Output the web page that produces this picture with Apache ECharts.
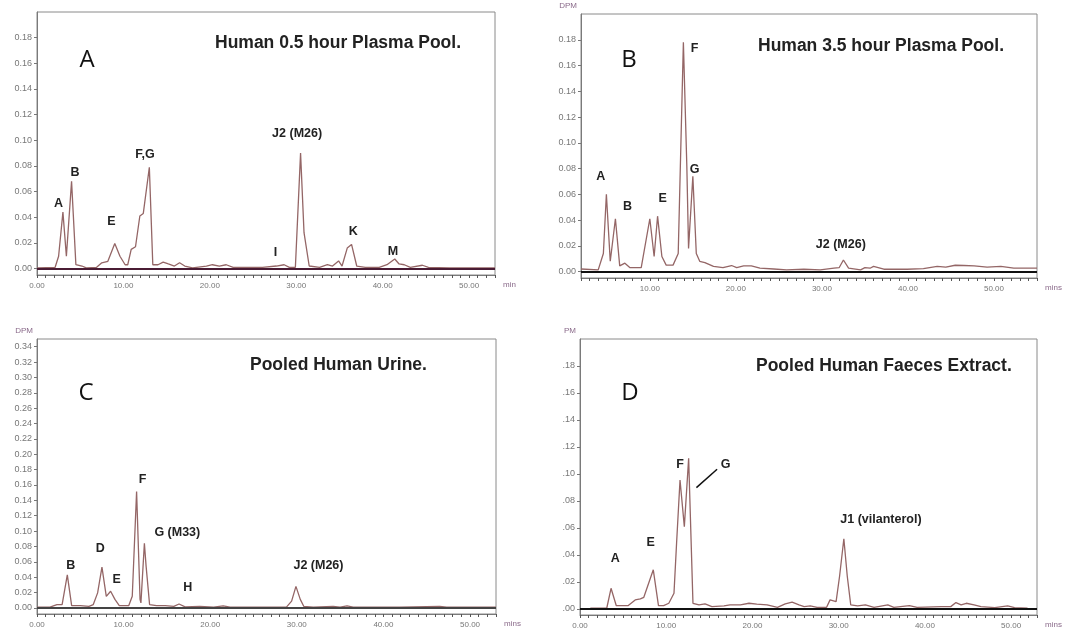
<!DOCTYPE html>
<html>
<head>
<meta charset="utf-8">
<script src="https://cdn.jsdelivr.net/npm/echarts@6/dist/echarts.min.js"></script>
<style>
  html, body { margin: 0; padding: 0; background: #fff; }
  #chart { width: 1084px; height: 638px; }
</style>
</head>
<body>
<div id="chart"></div>
<script>
// ---- panel A: Human 0.5 hour plasma pool ----
const timeA = [0, 2.1, 2.5, 3.0, 3.4, 4.0, 4.5, 5.2, 5.7, 6.9, 7.5, 8.2, 9.0, 9.6, 10.2, 10.5, 10.9, 11.4, 11.9, 12.3, 13.0, 13.4, 14.0, 14.6, 15.2, 15.9, 16.5, 17.1, 18.0, 19.6, 20.3, 21.1, 21.9, 22.7, 24.2, 26.1, 27.7, 28.6, 29.2, 29.9, 30.5, 30.9, 31.5, 32.7, 33.6, 34.2, 34.9, 35.3, 35.9, 36.4, 37.0, 38.0, 39.6, 40.5, 41.4, 41.9, 42.5, 43.2, 44.6, 45.3, 47.7, 53];
const dpmA = [0.0005, 0.001, 0.0096, 0.044, 0.0096, 0.068, 0.003, 0.002, 0.0005, 0.001, 0.0045, 0.0057, 0.0195, 0.0096, 0.003, 0.003, 0.015, 0.017, 0.041, 0.043, 0.079, 0.003, 0.003, 0.005, 0.0036, 0.002, 0.0045, 0.002, 0.0005, 0.002, 0.003, 0.002, 0.003, 0.001, 0.001, 0.001, 0.002, 0.003, 0.001, 0.001, 0.09, 0.028, 0.002, 0.001, 0.003, 0.002, 0.006, 0.002, 0.016, 0.0188, 0.002, 0.001, 0.001, 0.003, 0.0075, 0.0036, 0.003, 0.001, 0.0026, 0.001, 0.0005, 0.0005];
const peakNamesA = ['A', 'B', 'E', 'F,G', 'I', 'J2 (M26)', 'K', 'M'];
const peakTimeA = [2.5, 4.4, 8.6, 12.5, 27.6, 30.1, 36.6, 41.2];
const peakDpmA = [0.051, 0.075, 0.037, 0.089, 0.0122, 0.105, 0.029, 0.013];

// ---- panel B: Human 3.5 hour plasma pool ----
const timeB = [2, 4.0, 4.6, 4.95, 5.4, 6.0, 6.5, 7.1, 7.7, 9.0, 10.0, 10.5, 10.9, 11.4, 11.9, 12.7, 13.3, 13.9, 14.3, 14.5, 15.0, 15.4, 15.8, 16.4, 17.4, 18.5, 19.5, 20.1, 20.9, 21.8, 22.8, 24.4, 25.9, 27.9, 29.8, 31.4, 32.0, 32.5, 33.1, 34.5, 35.0, 35.6, 36.0, 37.2, 39.9, 41.8, 43.4, 44.4, 45.5, 46.5, 47.7, 49.2, 50.8, 52.3, 55];
const dpmB = [0.002, 0.0013, 0.014, 0.06, 0.008, 0.041, 0.0044, 0.0065, 0.003, 0.003, 0.041, 0.0117, 0.043, 0.0117, 0.005, 0.005, 0.014, 0.178, 0.082, 0.018, 0.074, 0.014, 0.008, 0.007, 0.004, 0.003, 0.0047, 0.003, 0.0044, 0.0044, 0.0026, 0.002, 0.0013, 0.0018, 0.0013, 0.0026, 0.003, 0.009, 0.0026, 0.0013, 0.003, 0.0026, 0.004, 0.0018, 0.0018, 0.0023, 0.004, 0.0034, 0.0049, 0.0047, 0.0044, 0.0034, 0.004, 0.0026, 0.0026];
const peakNamesB = ['A', 'B', 'E', 'F', 'G', 'J2 (M26)'];
const peakTimeB = [4.3, 7.4, 11.5, 15.2, 15.2, 32.2];
const peakDpmB = [0.0738, 0.0505, 0.0565, 0.173, 0.079, 0.0207];

// ---- panel C: pooled human urine ----
const timeC = [0, 1.5, 2.3, 2.9, 3.5, 4.0, 5.0, 6.0, 6.5, 7.0, 7.5, 8.0, 8.5, 9.0, 9.5, 10.6, 11.0, 11.5, 11.9, 12.0, 12.4, 12.6, 13.0, 13.8, 14.8, 15.8, 16.4, 17.1, 18.8, 20.4, 21.5, 22.3, 25.8, 28.8, 29.4, 29.9, 30.4, 30.8, 31.9, 34.2, 35.0, 35.8, 36.5, 41.9, 46.5, 47.3, 53];
const dpmC = [0.001, 0.001, 0.0043, 0.0043, 0.043, 0.003, 0.003, 0.002, 0.0043, 0.0195, 0.053, 0.015, 0.0216, 0.011, 0.003, 0.003, 0.015, 0.1515, 0.011, 0.0065, 0.084, 0.054, 0.0043, 0.003, 0.003, 0.002, 0.005, 0.0013, 0.002, 0.001, 0.0026, 0.001, 0.001, 0.001, 0.0087, 0.028, 0.011, 0.002, 0.001, 0.002, 0.001, 0.0026, 0.001, 0.001, 0.002, 0.001, 0.001];
const peakNamesC = ['B', 'D', 'E', 'F', 'G (M33)', 'H', 'J2 (M26)'];
const peakTimeC = [3.9, 7.3, 9.2, 12.2, 16.2, 17.4, 32.5];
const peakDpmC = [0.055, 0.0766, 0.0368, 0.1667, 0.0974, 0.026, 0.055];

// ---- panel D: pooled human faeces extract ----
const timeD = [1.2, 3.1, 3.6, 4.2, 5.6, 6.4, 7.0, 7.4, 8.5, 9.1, 9.7, 10.3, 10.9, 11.2, 11.6, 12.1, 12.6, 13.1, 13.8, 14.5, 15.3, 16.7, 17.4, 18.6, 19.6, 20.5, 21.7, 22.9, 23.8, 24.6, 25.4, 26.0, 26.7, 27.5, 28.6, 29.0, 29.7, 30.1, 30.6, 31.0, 31.4, 32.2, 33.1, 34.1, 35.7, 36.4, 38.2, 39.1, 41.9, 43.0, 43.6, 44.2, 44.8, 45.7, 46.5, 48.1, 49.6, 50.4, 51.9];
const dpmD = [0.0005, 0.0005, 0.0153, 0.0025, 0.0025, 0.0067, 0.0074, 0.0086, 0.029, 0.0025, 0.0025, 0.0042, 0.0116, 0.0486, 0.0955, 0.061, 0.1116, 0.0042, 0.003, 0.0037, 0.0017, 0.0022, 0.003, 0.003, 0.0042, 0.0035, 0.003, 0.0012, 0.0037, 0.005, 0.003, 0.0017, 0.0022, 0.0012, 0.0012, 0.0067, 0.0054, 0.024, 0.052, 0.024, 0.003, 0.0022, 0.003, 0.0012, 0.003, 0.0012, 0.0025, 0.0012, 0.0017, 0.0017, 0.0047, 0.003, 0.0042, 0.003, 0.0017, 0.001, 0.0022, 0.001, 0.0005];
const peakNamesD = ['A', 'E', 'F', 'G', 'J1 (vilanterol)'];
const peakTimeD = [4.1, 8.2, 11.6, 16.9, 34.9];
const peakDpmD = [0.0375, 0.049, 0.107, 0.107, 0.0664];
const leaderD = [[13.5, 0.0899], [15.9, 0.1035]]; // pointer from "G" to its peak

// axis labels
const xLabels = [0, 10, 20, 30, 40, 50];
const yLabelsSmall = [0, 0.02, 0.04, 0.06, 0.08, 0.10, 0.12, 0.14, 0.16, 0.18];
const yLabelsUrine = [0, 0.02, 0.04, 0.06, 0.08, 0.10, 0.12, 0.14, 0.16, 0.18, 0.20, 0.22, 0.24, 0.26, 0.28, 0.30, 0.32, 0.34];

const font = '"Liberation Sans", Arial, sans-serif';
const traceColor = '#946666';
const axisColor = '#7a7a7a';

const range = (a, b, step) => {
	const out = [];
	for (let v = a; v <= b + 1e-9; v += step) out.push(+v.toFixed(4));
	return out;
};
const zip = (t, v) => t.map((x, i) => [x, v[i]]);

const panels = [
	{ grid: { left: 37, top: 12, width: 458, height: 263 }, x: [0, 53], y: [-0.005, 0.2], yLabels: yLabelsSmall, xName: 'min', yName: '',
	  time: timeA, dpm: dpmA, names: peakNamesA, pt: peakTimeA, pd: peakDpmA, base: '#4a1c34', fmt: (v) => v.toFixed(2) },
	{ grid: { left: 581, top: 14, width: 456, height: 264 }, x: [2, 55], y: [-0.005, 0.2], yLabels: yLabelsSmall, xName: 'mins', yName: 'DPM',
	  time: timeB, dpm: dpmB, names: peakNamesB, pt: peakTimeB, pd: peakDpmB, base: '#111', fmt: (v) => v.toFixed(2) },
	{ grid: { left: 37, top: 339, width: 459, height: 275 }, x: [0, 53], y: [-0.008, 0.35], yLabels: yLabelsUrine, xName: 'mins', yName: 'DPM',
	  time: timeC, dpm: dpmC, names: peakNamesC, pt: peakTimeC, pd: peakDpmC, base: '#444', fmt: (v) => v.toFixed(2) },
	{ grid: { left: 580, top: 339, width: 457, height: 276 }, x: [0, 53], y: [-0.0045, 0.2], yLabels: yLabelsSmall, xName: 'mins', yName: 'PM',
	  time: timeD, dpm: dpmD, names: peakNamesD, pt: peakTimeD, pd: peakDpmD, base: '#111', fmt: (v) => v.toFixed(2).replace(/^0/, '') },
];

const grid = [], xAxis = [], yAxis = [], series = [];
panels.forEach((p, i) => {
	grid.push(Object.assign({ show: true, borderColor: '#8a8a8a', borderWidth: 1, backgroundColor: '#fff' }, p.grid));
	xAxis.push({
		type: 'value', gridIndex: i, min: p.x[0], max: p.x[1],
		axisLine: { onZero: false, lineStyle: { color: axisColor } },
		axisTick: { length: 3, lineStyle: { color: '#555' }, customValues: range(Math.ceil(p.x[0]), Math.floor(p.x[1]), 1) },
		axisLabel: { customValues: xLabels.filter((v) => v >= p.x[0] && v <= p.x[1]), formatter: (v) => v.toFixed(2), fontSize: 8, color: '#777', fontFamily: font, margin: 7 },
		splitLine: { show: false },
		name: p.xName, nameLocation: 'end', nameGap: 8,
		nameTextStyle: { fontSize: 8, color: '#8a6a8a', fontFamily: font, verticalAlign: 'top', padding: [6, 0, 0, 0] },
	});
	yAxis.push({
		type: 'value', gridIndex: i, min: p.y[0], max: p.y[1],
		axisLine: { show: true, lineStyle: { color: axisColor } },
		axisTick: { show: true, length: 3, lineStyle: { color: '#777' }, customValues: p.yLabels },
		axisLabel: { customValues: p.yLabels, formatter: p.fmt, fontSize: 9, color: '#777', fontFamily: font, margin: 5 },
		splitLine: { show: false },
		name: p.yName, nameLocation: 'end', nameGap: 4,
		nameTextStyle: { fontSize: 8, color: '#8a6a8a', fontFamily: font, align: 'right', padding: [0, 4, 0, 0] },
	});
	const s = {
		type: 'line', xAxisIndex: i, yAxisIndex: i,
		data: zip(p.time, p.dpm),
		showSymbol: false, symbol: 'none',
		lineStyle: { color: traceColor, width: 1.3 },
		z: 3,
		markLine: {
			silent: true, symbol: ['none', 'none'], label: { show: false },
			lineStyle: { color: p.base, width: 1.8, type: 'solid' },
			data: [{ yAxis: 0 }],
		},
		markPoint: {
			symbol: 'circle', symbolSize: 1, itemStyle: { color: 'rgba(0,0,0,0)' },
			label: { show: true, position: 'inside', formatter: '{b}', color: '#222', fontWeight: 'bold', fontSize: 12.5, fontFamily: font },
			data: p.names.map((n, k) => ({ name: n, coord: [p.pt[k], p.pd[k]] })),
		},
	};
	if (i === 3) {
		s.markLine.data.push([
			{ coord: leaderD[0], lineStyle: { color: '#111', width: 1.5 } },
			{ coord: leaderD[1] },
		]);
	}
	series.push(s);
});

const panelText = (x, y, letter, tx, ty, title) => [
	{ type: 'text', x: x, y: y, style: { text: letter, font: '24px "Open Sans", sans-serif', fill: '#111', align: 'center', verticalAlign: 'middle' } },
	{ type: 'text', x: tx, y: ty, style: { text: title, font: 'bold 17.5px ' + font, fill: '#222', align: 'left', verticalAlign: 'middle' } },
];

const chart = echarts.init(document.getElementById('chart'));
chart.setOption({
	animation: false,
	backgroundColor: '#fff',
	grid, xAxis, yAxis, series,
	graphic: [].concat(
		panelText(87, 60, 'A', 215, 43, 'Human 0.5 hour Plasma Pool.'),
		panelText(629, 60, 'B', 758, 46, 'Human 3.5 hour Plasma Pool.'),
		panelText(86, 393, 'C', 250, 365, 'Pooled Human Urine.'),
		panelText(630, 393, 'D', 756, 366, 'Pooled Human Faeces Extract.')
	),
});
</script>
</body>
</html>
